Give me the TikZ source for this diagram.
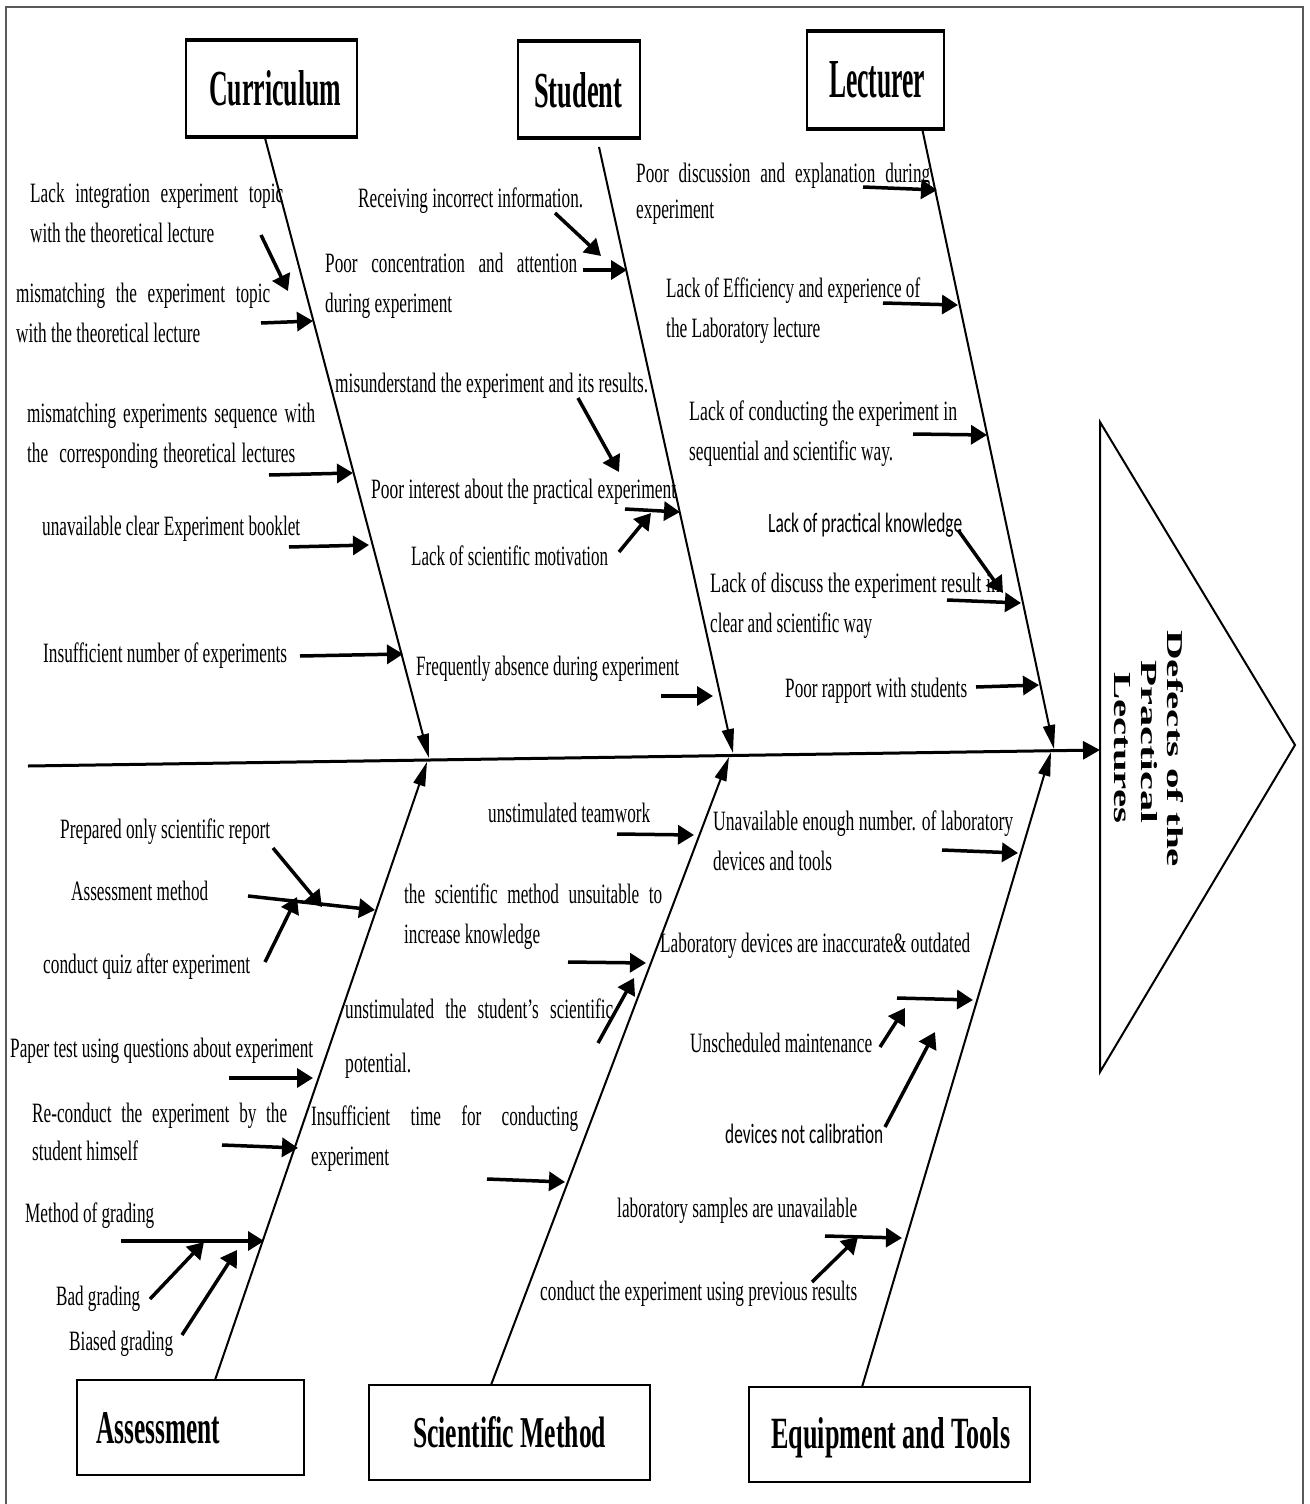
\documentclass[tikz,border=0pt]{standalone}
\usepackage{fontspec}
\setmainfont{Liberation Serif}[FakeStretch=0.615]
\newfontfamily\sansc{Carlito}[FakeStretch=0.72]
\usetikzlibrary{arrows.meta}
\newcommand\fitw[2]{\resizebox{#1pt}{\height}{#2}}
\newcommand\just[2]{\makebox[#1pt][s]{#2}}
\newcommand\lblbox[3]{\resizebox{#1pt}{#2pt}{\bfseries #3}}
\newcommand\carrow[3]{\coordinate (#1a) at #2; \coordinate (#1b) at #3; \draw[sarr] (#1a) -- (#1b);}
\begin{document}
\begin{tikzpicture}[x=1pt,y=-1pt,
  txt/.style={anchor=base west, inner sep=0pt, font=\fontsize{28}{32}\selectfont, text=black},
  catbox/.style={draw, line width=2.5pt, inner sep=0pt},
  catlbl/.style={anchor=base west, inner sep=0pt},
  rot/.style={rotate=-90, anchor=base west, inner sep=0pt},
  spine/.style={line width=3pt, -{Triangle[length=17pt,width=18pt]}},
  bone/.style={line width=2pt, -{Triangle[length=24pt,width=12pt]}},
  sarr/.style={line width=3.5pt, -{Triangle[length=16pt,width=19pt]}},
]
\useasboundingbox (0,0) rectangle (1309,1504);
\fill[white] (0,0) rectangle (1309,1504);
\draw[gray!70!black, line width=2pt] (6,1504) -- (6,7) -- (1303,7) -- (1303,1504);

% category boxes
\node[catbox, minimum width=171pt, minimum height=95pt] (cur) at (271.5,88.5) {};
\node[catbox, minimum width=122pt, minimum height=95pt] (stu) at (579,89.5) {};
\node[catbox, minimum width=137pt, minimum height=96pt] (lec) at (875.5,80) {};
\foreach \b in {cur,stu,lec}{
  \draw[line width=4pt] (\b.north west) -- (\b.north east);
  \draw[line width=4pt] (\b.south west) -- (\b.south east);
}
\node[catbox, minimum width=227pt, minimum height=95pt] (ass) at (190.5,1427.5) {};
\node[catbox, minimum width=281pt, minimum height=95pt] (sci) at (509.5,1432.5) {};
\node[catbox, minimum width=281pt, minimum height=95pt] (equ) at (889.5,1434.5) {};

\node[catlbl] (curT) at (209,105) {\lblbox{132}{35}{Curriculum}};
\node[catlbl] (stuT) at (534,107) {\lblbox{88}{35}{Student}};
\node[catlbl] (lecT) at (829,97) {\lblbox{96}{36}{Lecturer}};
\node[catlbl] (assT) at (96,1443) {\lblbox{124}{31}{Assessment}};
\node[catlbl] (sciT) at (413,1447) {\lblbox{193}{31}{Scientific Method}};
\node[catlbl] (equT) at (771,1448) {\lblbox{239}{31}{Equipment and Tools}};

% effect
\draw[line width=2pt] (1100,422) -- (1295,745) -- (1100,1072) -- cycle;
\coordinate (effect) at (1100,750);
\node[rot] (ef1) at (1167,630) {\resizebox{237pt}{16pt}{\bfseries Defects of the}};
\node[rot] (ef2) at (1141,660) {\resizebox{163pt}{16pt}{\bfseries Practical}};
\node[rot] (ef3) at (1114,672) {\resizebox{151pt}{16pt}{\bfseries Lectures}};

% spine
\coordinate (tail) at (28,766);
\draw[spine] (tail) -- (effect);

% bones
\coordinate (curS) at (265,138); \coordinate (curE) at (429,758);
\coordinate (stuS) at (599,147); \coordinate (stuE) at (733,753);
\coordinate (lecS) at (922,128); \coordinate (lecE) at (1054,749);
\coordinate (assS) at (215,1380); \coordinate (assE) at (427,762);
\coordinate (sciS) at (491,1385); \coordinate (sciE) at (729,757);
\coordinate (equS) at (862,1387); \coordinate (equE) at (1051,752);
\foreach \b in {cur,stu,lec,ass,sci,equ}{ \draw[bone] (\b S) -- (\b E); }

% cause arrows
\carrow{c1}{(261,235)}{(288,291)}
\carrow{c2}{(261,323)}{(313,321)}
\carrow{c3}{(269,475)}{(353,473)}
\carrow{c4}{(289,547)}{(369,545)}
\carrow{c5}{(300,656)}{(403,654)}
\carrow{s1}{(555,213)}{(601,256)}
\carrow{s2}{(583,270)}{(627,270)}
\carrow{s3}{(578,398)}{(619,472)}
\carrow{s4}{(625,509)}{(680,512)}
\carrow{s5}{(619,552)}{(651,513)}
\carrow{s6}{(661,696)}{(713,696)}
\carrow{l1}{(863,187)}{(937,190)}
\carrow{l2}{(883,303)}{(958,305)}
\carrow{l3}{(913,434)}{(987,435)}
\carrow{l4}{(958,530)}{(1003,593)}
\carrow{l5}{(947,600)}{(1021,603)}
\carrow{l6}{(976,687)}{(1039,685)}
\carrow{a1}{(248,896)}{(375,910)}
\carrow{a2}{(273,848)}{(322,907)}
\carrow{a3}{(265,962)}{(297,897)}
\carrow{a4}{(229,1078)}{(313,1078)}
\carrow{a5}{(222,1145)}{(298,1148)}
\carrow{a6}{(121,1241)}{(264,1241)}
\carrow{a7}{(150,1299)}{(204,1242)}
\carrow{a8}{(182,1335)}{(237,1250)}
\carrow{m1}{(617,834)}{(694,835)}
\carrow{m2}{(568,962)}{(646,963)}
\carrow{m3}{(598,1043)}{(634,978)}
\carrow{m4}{(487,1179)}{(565,1182)}
\carrow{e1}{(942,850)}{(1018,853)}
\carrow{e2}{(897,998)}{(973,1000)}
\carrow{e3}{(880,1047)}{(905,1008)}
\carrow{e4}{(885,1127)}{(935,1032)}
\carrow{e5}{(825,1236)}{(902,1238)}
\carrow{e6}{(812,1282)}{(858,1237)}

% Curriculum causes
\node[txt] (t1a) at (30,202) {\just{253}{Lack integration experiment topic}};
\node[txt] (t1b) at (30,242) {\fitw{184}{with the theoretical lecture}};
\node[txt] (t2a) at (16,302) {\just{254}{mismatching the experiment topic}};
\node[txt] (t2b) at (16,342) {\fitw{184}{with the theoretical lecture}};
\node[txt] (t3a) at (27,422) {\just{288}{mismatching experiments sequence with}};
\node[txt] (t3b) at (27,462) {\just{268}{the\ \ corresponding theoretical lectures}};
\node[txt] (t4) at (42,535) {\fitw{258}{unavailable clear Experiment booklet}};
\node[txt] (t5) at (43,662) {\fitw{244}{Insufficient number of experiments}};

% Student causes
\node[txt] (u1) at (358,207) {\fitw{225}{Receiving incorrect information.}};
\node[txt] (u2a) at (325,272) {\just{252}{Poor concentration and attention}};
\node[txt] (u2b) at (325,312) {\fitw{127}{during experiment}};
\node[txt] (u3) at (335,392) {\fitw{313}{misunderstand the experiment and its results.}};
\node[txt] (u4) at (371,498) {\fitw{305}{Poor interest about the practical experiment}};
\node[txt] (u5) at (411,565) {\fitw{197}{Lack of scientific motivation}};
\node[txt] (u6) at (416,675) {\fitw{263}{Frequently absence during experiment}};

% Lecturer causes
\node[txt] (r1a) at (636,182) {\just{294}{Poor discussion and explanation during}};
\node[txt] (r1b) at (636,218) {\fitw{78}{experiment}};
\node[txt] (r2a) at (666,297) {\fitw{254}{Lack of Efficiency and experience of}};
\node[txt] (r2b) at (666,337) {\fitw{154}{the Laboratory lecture}};
\node[txt] (r3a) at (689,420) {\fitw{268}{Lack of conducting the experiment in}};
\node[txt] (r3b) at (689,460) {\fitw{204}{sequential and scientific way.}};
\node[txt] (r4) at (768,532) {\fitw{194}{\sansc Lack of practical knowledge}};
\node[txt] (r5a) at (710,592) {\fitw{290}{Lack of discuss the experiment result in}};
\node[txt] (r5b) at (710,632) {\fitw{162}{clear and scientific way}};
\node[txt] (r6) at (785,697) {\fitw{182}{Poor rapport with students}};

% Assessment causes
\node[txt] (p1) at (60,838) {\fitw{210}{Prepared only scientific report}};
\node[txt] (p2) at (71,900) {\fitw{137}{Assessment method}};
\node[txt] (p3) at (43,973) {\fitw{207}{conduct quiz after experiment}};
\node[txt] (p4) at (10,1057) {\fitw{303}{Paper test using questions about experiment}};
\node[txt] (p5a) at (32,1122) {\just{255}{Re-conduct the experiment by the}};
\node[txt] (p5b) at (32,1160) {\fitw{106}{student himself}};
\node[txt] (p6) at (25,1222) {\fitw{129}{Method of grading}};
\node[txt] (p7) at (56,1305) {\fitw{84}{Bad grading}};
\node[txt] (p8) at (69,1350) {\fitw{104}{Biased grading}};

% Scientific method causes
\node[txt] (q1) at (488,822) {\fitw{162}{unstimulated teamwork}};
\node[txt] (q2a) at (404,903) {\just{258}{the scientific method unsuitable to}};
\node[txt] (q2b) at (404,943) {\fitw{136}{increase knowledge}};
\node[txt] (q3a) at (345,1018) {\just{268}{unstimulated the student’s scientific}};
\node[txt] (q3b) at (345,1072) {\fitw{66}{potential.}};
\node[txt] (q4a) at (311,1125) {\just{267}{Insufficient time for conducting}};
\node[txt] (q4b) at (311,1165) {\fitw{78}{experiment}};

% Equipment causes
\node[txt] (w1a) at (713,830) {\fitw{300}{Unavailable enough number. of laboratory}};
\node[txt] (w1b) at (713,870) {\fitw{119}{devices and tools}};
\node[txt] (w2) at (660,952) {\fitw{310}{Laboratory devices are inaccurate\& outdated}};
\node[txt] (w3) at (690,1052) {\fitw{182}{Unscheduled maintenance}};
\node[txt] (w4) at (725,1143) {\fitw{158}{\sansc devices not calibration}};
\node[txt] (w5) at (617,1217) {\fitw{240}{laboratory samples are unavailable}};
\node[txt] (w6) at (540,1300) {\fitw{317}{conduct the experiment using previous results}};
\end{tikzpicture}
\end{document}
